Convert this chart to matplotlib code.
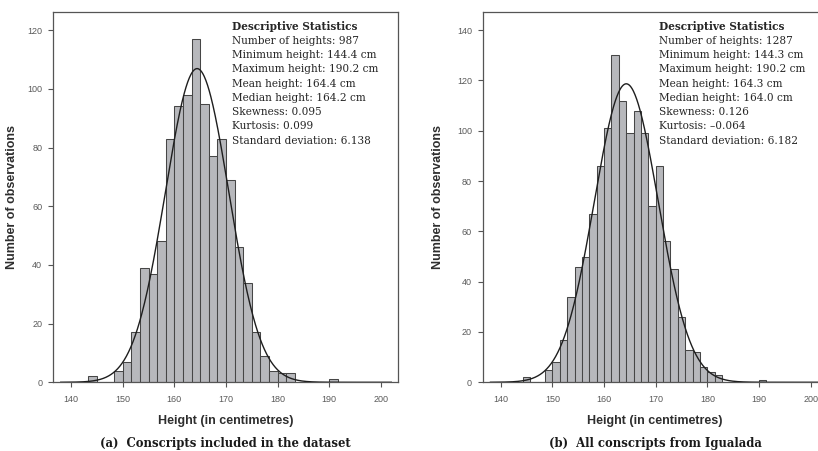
import numpy as np
import matplotlib
matplotlib.use("Agg")
import matplotlib.pyplot as plt

# ---------------- data ----------------
# Panel (a): conscripts included in the dataset
a_bin_start = 143.3333
a_bin_width = 5.0 / 3.0
a_counts = [2, 0, 0, 4, 7, 17, 39, 37, 48, 83, 94, 98, 117, 95, 77, 83, 69, 46,
            34, 17, 9, 4, 3, 3, 0, 0, 0, 0, 1]
a_stats = {"n": 987, "min": 144.4, "max": 190.2, "mean": 164.4, "median": 164.2,
           "skew": "0.095", "kurt": "0.099", "sd": 6.138}

# Panel (b): all conscripts from Igualada
b_bin_start = 144.2857
b_bin_width = 10.0 / 7.0
b_counts = [2, 0, 0, 5, 8, 17, 34, 46, 50, 67, 86, 101, 130, 112, 99, 108, 99, 70,
            86, 56, 45, 26, 13, 12, 6, 4, 3, 0, 0, 0, 0, 0, 1]
b_stats = {"n": 1287, "min": 144.3, "max": 190.2, "mean": 164.3, "median": 164.0,
           "skew": "0.126", "kurt": "\u20130.064", "sd": 6.182}

x_ticks = [140, 150, 160, 170, 180, 190, 200]
a_yticks = [0, 20, 40, 60, 80, 100, 120]
b_yticks = [0, 20, 40, 60, 80, 100, 120, 140]

xlabel = "Height (in centimetres)"
ylabel = "Number of observations"
caption_a = "(a)  Conscripts included in the dataset"
caption_b = "(b)  All conscripts from Igualada"

# ---------------- style ----------------
W, H = 818, 451
BAR_FC = "#b7b8bc"
BAR_EC = "#464646"
SPINE = "#555555"
TICKC = "#5a5a5a"
LABELC = "#2e2e2e"

fig = plt.figure(figsize=(W / 100, H / 100), dpi=100)


def px_axes(left, top, right, bottom):
    return [left / W, 1 - bottom / H, (right - left) / W, (bottom - top) / H]


def draw_panel(ax, start, bw, counts, stats, yticks, ylim):
    counts = np.array(counts, dtype=float)
    edges = start + bw * np.arange(len(counts) + 1)
    ax.bar(edges[:-1], counts, width=bw, align="edge", color=BAR_FC,
           edgecolor=BAR_EC, linewidth=0.75, zorder=2)
    xs = np.linspace(138, 202, 600)
    mu, sd = stats["mean"], stats["sd"]
    ys = stats["n"] * bw * np.exp(-0.5 * ((xs - mu) / sd) ** 2) / (sd * np.sqrt(2 * np.pi))
    ax.plot(xs, ys, color="#1e1e1e", linewidth=1.0, zorder=3)
    ax.set_xlim(136.5, 203.3)
    ax.set_ylim(0, ylim)
    ax.set_xticks(x_ticks)
    ax.set_yticks(yticks)
    for s in ax.spines.values():
        s.set_color(SPINE)
        s.set_linewidth(0.9)
    ax.tick_params(direction="out", length=3.6, width=0.8, color=SPINE,
                   labelsize=6.5, labelcolor=TICKC)
    ax.tick_params(axis="x", pad=5.5)
    ax.tick_params(axis="y", pad=4.2)
    for t in ax.get_xticklabels() + ax.get_yticklabels():
        t.set_family(["Liberation Sans", "DejaVu Sans"])


axA = fig.add_axes(px_axes(53, 12, 398, 382.3))
draw_panel(axA, a_bin_start, a_bin_width, a_counts, a_stats, a_yticks, 126.2)

axB = fig.add_axes(px_axes(482.7, 11.7, 827.7, 382.3))
draw_panel(axB, b_bin_start, b_bin_width, b_counts, b_stats, b_yticks, 147.3)


def stats_block(x_px, st):
    lines = [
        "Descriptive Statistics",
        f"Number of heights: {st['n']}",
        f"Minimum height: {st['min']:.1f} cm",
        f"Maximum height: {st['max']:.1f} cm",
        f"Mean height: {st['mean']:.1f} cm",
        f"Median height: {st['median']:.1f} cm",
        f"Skewness: {st['skew']}",
        f"Kurtosis: {st['kurt']}",
        f"Standard deviation: {st['sd']:.3f}",
    ]
    for i, line in enumerate(lines):
        y = 26.7 + i * 14.25
        fig.text(x_px / W, 1 - y / H, line, ha="left", va="center",
                 fontsize=7.6, family=["DejaVu Serif"],
                 fontweight="bold" if i == 0 else "normal", color="#262626")


stats_block(232, a_stats)
stats_block(659.3, b_stats)

sans = ["Liberation Sans", "DejaVu Sans"]
for cx, ylx in [(225.5, 12), (655.2, 438)]:
    fig.text(cx / W, 1 - 420.7 / H, xlabel, ha="center", va="center",
             fontsize=9, fontweight="bold", family=sans, color=LABELC)
    fig.text(ylx / W, 1 - 197 / H, ylabel, ha="center", va="center", rotation=90,
             fontsize=9, fontweight="bold", family=sans, color=LABELC)

fig.text(225.8 / W, 1 - 443.3 / H, caption_a, ha="center", va="center",
         fontsize=8.4, fontweight="bold", family=["DejaVu Serif"], color="#1a1a1a")
fig.text(655 / W, 1 - 443.3 / H, caption_b, ha="center", va="center",
         fontsize=8.4, fontweight="bold", family=["DejaVu Serif"], color="#1a1a1a")

fig.savefig("out.png", dpi=100)
